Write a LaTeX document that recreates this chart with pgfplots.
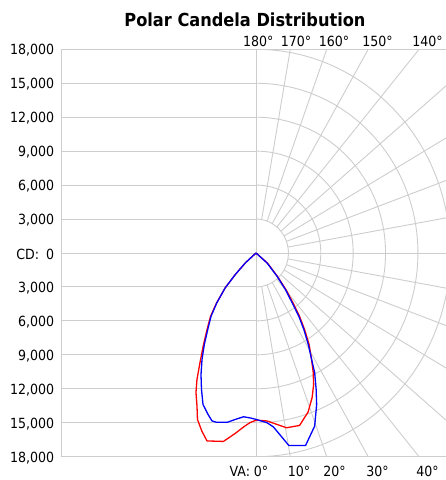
\documentclass[border=0pt]{standalone}
\usepackage{pgfplots}
\pgfplotsset{compat=1.18}
\usepackage{fontspec}
\setmainfont{DejaVu Sans Condensed}
\definecolor{gridc}{RGB}{205,205,205}
\definecolor{cred}{RGB}{255,0,0}
\definecolor{cblue}{RGB}{0,0,255}
\newcommand{\lbl}{\fontsize{14bp}{16bp}\selectfont}
\begin{document}
\begin{tikzpicture}[x=1bp,y=1bp]
% polar grid (units: 1000 cd)
\begin{scope}[shift={(256.01bp,227bp)}, x=10.7949bp, y=11.3167bp]
  \begin{scope}
    \clip (-18,-18) rectangle (17.6,18);
    \foreach \v in {-15,-12,...,15} \draw[gridc, line width=0.9bp] (-18,\v) -- (0,\v);
    \draw[gridc, line width=0.9bp] (-18,0) -- (17.6,0);
    \draw[gridc, line width=0.9bp] (0,-18) -- (0,18);
    \foreach \R in {3,6,...,18} \draw[gridc, line width=0.9bp] plot[domain=-90:90, samples=121, smooth] ({\R*cos(\x)},{\R*sin(\x)});
    \foreach \a in {0,10,...,180} \draw[gridc, line width=0.9bp] ({3*sin(\a)},{-3*cos(\a)}) -- ({60*sin(\a)},{-60*cos(\a)});
  \end{scope}
  \draw[gridc, line width=0.9bp] (18,18) -- (-18,18) -- (-18,-18) -- (18,-18);
\end{scope}
\begin{axis}[
  at={(61.7bp,23.3bp)}, anchor=south west,
  scale only axis, width=384.3bp, height=407.4bp,
  xmin=-18000, xmax=17600, ymin=-18000, ymax=18000,
  axis line style={draw=none},
  xtick=\empty,
  scaled y ticks=false,
  ytick={-18000,-15000,-12000,-9000,-6000,-3000,0,3000,6000,9000,12000,15000,18000},
  yticklabels={{18,000},{15,000},{12,000},{9,000},{6,000},{3,000},{CD:\hspace{7bp}0},{3,000},{6,000},{9,000},{12,000},{15,000},{18,000}},
  major tick length=0pt,
  yticklabel style={font=\lbl, anchor=east, inner sep=0pt, xshift=-7.4bp, yshift=-1bp},
  clip=true,
]
\addplot[cred, line width=1.3bp, line join=round] coordinates {
(0,0) (-997,-882) (-1929,-1915) (-2860,-3088) (-3652,-4412) (-4211,-5594) (-4537,-6768) (-4863,-8092) (-5190,-9680) (-5469,-11180) (-5562,-12327) (-5469,-13474) (-5423,-14710) (-5003,-15769) (-4537,-16607) (-3019,-16651) (-1929,-15945) (-1090,-15327) (-531,-14974) (28,-14771) (1025,-14842) (2823,-15442) (4034,-15239) (4826,-14048) (5199,-12768) (5339,-11621) (5292,-10474) (5106,-9151) (4919,-8092) (4500,-6768) (4034,-5594) (3429,-4412) (2776,-3238) (1985,-2065) (1053,-882) (0,0)
};
\addplot[cblue, line width=1.3bp, line join=round] coordinates {
(0,0) (-997,-882) (-1929,-1915) (-2860,-3088) (-3634,-4412) (-4165,-5594) (-4472,-6768) (-4789,-8092) (-5003,-9415) (-5096,-10739) (-5050,-12062) (-4910,-13386) (-4444,-14268) (-4071,-14842) (-3699,-14948) (-2627,-14948) (-1929,-14710) (-1155,-14471) (-531,-14577) (28,-14710) (1025,-15001) (1612,-15371) (3037,-17004) (4593,-17004) (5432,-15301) (5618,-13386) (5572,-12062) (5432,-10562) (5152,-9415) (4845,-8092) (4435,-6768) (3969,-5594) (3354,-4412) (2730,-3238) (1957,-2065) (1025,-882) (0,0)
};
\end{axis}
% title
\node[anchor=base, font=\fontsize{18bp}{20bp}\selectfont\bfseries, inner sep=0pt] at (245bp,453.3bp) {Polar Candela Distribution};
% angle labels top
\foreach \xx/\t in {258.3/180, 296/170, 334/160, 377.5/150, 427.5/140}
  \node[anchor=base, font=\lbl, inner sep=0pt] at (\xx bp,433.5bp) {\t°};
% angle labels bottom
\node[anchor=base east, font=\lbl, inner sep=0pt] at (268.5bp,3.5bp) {VA: 0°};
\foreach \xx/\t in {299/10, 334.5/20, 377.5/30, 427.5/40}
  \node[anchor=base, font=\lbl, inner sep=0pt] at (\xx bp,3.5bp) {\t°};
\pgfresetboundingbox
\useasboundingbox (0,0) rectangle (446bp,480bp);
\end{tikzpicture}
\end{document}
